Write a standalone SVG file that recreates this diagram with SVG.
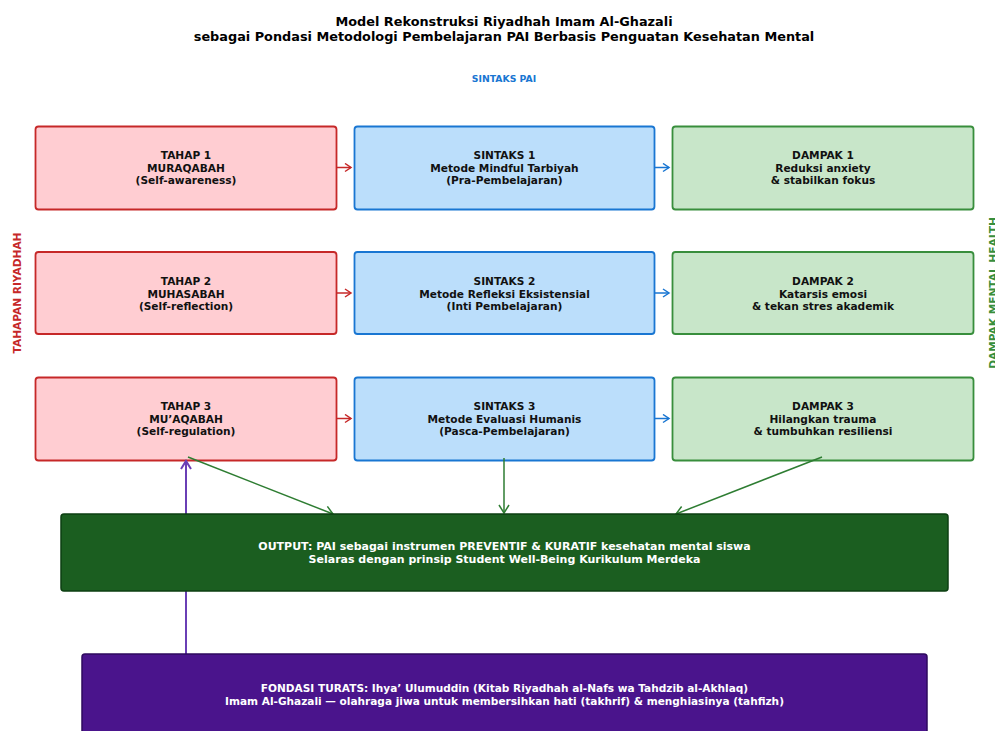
<svg xmlns="http://www.w3.org/2000/svg" width="995" height="731" viewBox="0 0 995 731">
<defs>
<style>
text{font-family:"DejaVu Sans","Liberation Sans",sans-serif;font-weight:bold;text-anchor:middle}
.t{font-size:12.85px;fill:#000}
.n{font-size:10.6px;fill:#111}
.w{font-size:11px;fill:#fff}
.f{font-size:10.55px;fill:#fff}
.tah{fill:#ffcdd2;stroke:#c62828;stroke-width:1.8}
.sin{fill:#bbdefb;stroke:#1976d2;stroke-width:1.8}
.dam{fill:#c8e6c9;stroke:#388e3c;stroke-width:1.8}
.ar{fill:none;stroke-width:1.5}
</style>
<marker id="mr" markerWidth="10" markerHeight="10" refX="8" refY="5" orient="auto" markerUnits="userSpaceOnUse"><path d="M2,1 L8,5 L2,9" fill="none" stroke="#c62828" stroke-width="1.5"/></marker>
<marker id="mb" markerWidth="10" markerHeight="10" refX="8" refY="5" orient="auto" markerUnits="userSpaceOnUse"><path d="M2,1 L8,5 L2,9" fill="none" stroke="#1976d2" stroke-width="1.5"/></marker>
<marker id="mg" markerWidth="12" markerHeight="12" refX="10" refY="6" orient="auto" markerUnits="userSpaceOnUse"><path d="M2,1 L10,6 L2,11" fill="none" stroke="#2e7d32" stroke-width="1.5"/></marker>
<marker id="mp" markerWidth="12" markerHeight="12" refX="10" refY="6" orient="auto" markerUnits="userSpaceOnUse"><path d="M2,1 L10,6 L2,11" fill="none" stroke="#6a3fb5" stroke-width="2"/></marker>
</defs>
<rect width="995" height="731" fill="#fff"/>
<text class="t" x="504" y="26">Model Rekonstruksi Riyadhah Imam Al-Ghazali</text>
<text class="t" x="504" y="41">sebagai Pondasi Metodologi Pembelajaran PAI Berbasis Penguatan Kesehatan Mental</text>
<text x="504" y="82" style="font-size:9.3px;fill:#1976d2">SINTAKS PAI</text>
<text transform="translate(21,293) rotate(-90)" style="font-size:10.6px;fill:#c62828">TAHAPAN RIYADHAH</text>
<text transform="translate(997,293) rotate(-90)" style="font-size:10.6px;fill:#388e3c">DAMPAK MENTAL HEALTH</text>

<g id="tahap1"><rect class="tah" x="35.5" y="126.5" width="301" height="83" rx="3"/><text class="n" x="186" y="159">TAHAP 1</text><text class="n" x="186" y="171.5">MURAQABAH</text><text class="n" x="186" y="184">(Self-awareness)</text></g>
<g id="sintaks1"><rect class="sin" x="354.5" y="126.5" width="300" height="83" rx="3"/><text class="n" x="504.5" y="159">SINTAKS 1</text><text class="n" x="504.5" y="171.5">Metode Mindful Tarbiyah</text><text class="n" x="504.5" y="184">(Pra-Pembelajaran)</text></g>
<g id="dampak1"><rect class="dam" x="672.5" y="126.5" width="301" height="83" rx="3"/><text class="n" x="823" y="159">DAMPAK 1</text><text class="n" x="823" y="171.5">Reduksi anxiety</text><text class="n" x="823" y="184">&amp; stabilkan fokus</text></g>

<g id="tahap2"><rect class="tah" x="35.5" y="252" width="301" height="82" rx="3"/><text class="n" x="186" y="285">TAHAP 2</text><text class="n" x="186" y="297.5">MUHASABAH</text><text class="n" x="186" y="310">(Self-reflection)</text></g>
<g id="sintaks2"><rect class="sin" x="354.5" y="252" width="300" height="82" rx="3"/><text class="n" x="504.5" y="285">SINTAKS 2</text><text class="n" x="504.5" y="297.5">Metode Refleksi Eksistensial</text><text class="n" x="504.5" y="310">(Inti Pembelajaran)</text></g>
<g id="dampak2"><rect class="dam" x="672.5" y="252" width="301" height="82" rx="3"/><text class="n" x="823" y="285">DAMPAK 2</text><text class="n" x="823" y="297.5">Katarsis emosi</text><text class="n" x="823" y="310">&amp; tekan stres akademik</text></g>

<g id="tahap3"><rect class="tah" x="35.5" y="377.5" width="301" height="83" rx="3"/><text class="n" x="186" y="410">TAHAP 3</text><text class="n" x="186" y="422.5">MU’AQABAH</text><text class="n" x="186" y="435">(Self-regulation)</text></g>
<g id="sintaks3"><rect class="sin" x="354.5" y="377.5" width="300" height="83" rx="3"/><text class="n" x="504.5" y="410">SINTAKS 3</text><text class="n" x="504.5" y="422.5">Metode Evaluasi Humanis</text><text class="n" x="504.5" y="435">(Pasca-Pembelajaran)</text></g>
<g id="dampak3"><rect class="dam" x="672.5" y="377.5" width="301" height="83" rx="3"/><text class="n" x="823" y="410">DAMPAK 3</text><text class="n" x="823" y="422.5">Hilangkan trauma</text><text class="n" x="823" y="435">&amp; tumbuhkan resiliensi</text></g>

<g id="connectors">
<line class="ar" x1="337" y1="167.5" x2="351" y2="167.5" stroke="#c62828" marker-end="url(#mr)"/>
<line class="ar" x1="337" y1="293" x2="351" y2="293" stroke="#c62828" marker-end="url(#mr)"/>
<line class="ar" x1="337" y1="418.5" x2="351" y2="418.5" stroke="#c62828" marker-end="url(#mr)"/>
<line class="ar" x1="655" y1="167.5" x2="669" y2="167.5" stroke="#1976d2" marker-end="url(#mb)"/>
<line class="ar" x1="655" y1="293" x2="669" y2="293" stroke="#1976d2" marker-end="url(#mb)"/>
<line class="ar" x1="655" y1="418.5" x2="669" y2="418.5" stroke="#1976d2" marker-end="url(#mb)"/>
<line class="ar" x1="188" y1="457" x2="333" y2="514" stroke="#2e7d32" marker-end="url(#mg)"/>
<line class="ar" x1="504" y1="458" x2="504" y2="513" stroke="#2e7d32" marker-end="url(#mg)"/>
<line class="ar" x1="822" y1="457" x2="676" y2="514" stroke="#2e7d32" marker-end="url(#mg)"/>
<line x1="186" y1="654" x2="186" y2="461" stroke="#6a3fb5" stroke-width="2" marker-end="url(#mp)"/>
</g>

<g id="output"><rect x="61" y="514" width="887" height="77" rx="3" fill="#1b5e20" stroke="#0d3f12" stroke-width="1.5"/><text class="w" x="504.5" y="550">OUTPUT: PAI sebagai instrumen PREVENTIF &amp; KURATIF kesehatan mental siswa</text><text class="w" x="504.5" y="563">Selaras dengan prinsip Student Well-Being Kurikulum Merdeka</text></g>
<g id="fondasi"><rect x="82" y="654" width="845" height="85" rx="3" fill="#4a148c" stroke="#2e0a5e" stroke-width="1.5"/><text class="f" x="504.5" y="692">FONDASI TURATS: Ihya’ Ulumuddin (Kitab Riyadhah al-Nafs wa Tahdzib al-Akhlaq)</text><text class="f" x="504.5" y="705">Imam Al-Ghazali — olahraga jiwa untuk membersihkan hati (takhrif) &amp; menghiasinya (tahfizh)</text></g>
</svg>
